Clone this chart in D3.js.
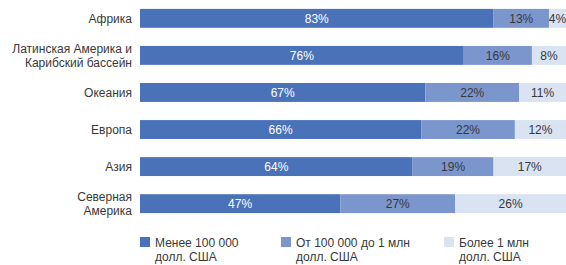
<!DOCTYPE html>
<html>
<head>
<meta charset="utf-8">
<script src="https://cdn.jsdelivr.net/npm/d3@7"></script>
<style>
  body { margin: 0; background: #fff; }
  text { font-family: "Liberation Sans", Arial, Helvetica, sans-serif; }
</style>
</head>
<body>
<div id="chart"></div>
<script>
// regions, top to bottom; each label split into lines
var categories = [
  ["Африка"],
  ["Латинская Америка и", "Карибский бассейн"],
  ["Океания"],
  ["Европа"],
  ["Азия"],
  ["Северная", "Америка"]
];
var small = [83, 76, 67, 66, 64, 47];     // менее 100 000
var medium = [13, 16, 22, 22, 19, 27];    // 100 000 - 1 млн
var large = [4, 8, 11, 12, 17, 26];       // более 1 млн
var seriesNames = [
  ["Менее 100 000", "долл. США"],
  ["От 100 000 до 1 млн", "долл. США"],
  ["Более 1 млн", "долл. США"]
];

var colors = ["#4a72b8", "#7b96cc", "#d9e3f2"];
var textColors = ["#ffffff", "#383838", "#383838"];

var W = 566, H = 265;
var svg = d3.select("#chart").append("svg")
  .attr("width", W).attr("height", H);

var rows = categories.map(function(c, i) {
  return { key: i, vals: [small[i], medium[i], large[i]] };
});

var x = d3.scaleLinear().domain([0, 100]).range([140, 566]);
var y = d3.scaleBand().domain(d3.range(categories.length))
  .range([0, 222]).paddingInner(0.49).paddingOuter(0.24);

var row = svg.selectAll("g.row")
  .data(rows)
  .enter().append("g")
  .attr("class", "row")
  .attr("transform", function(d) { return "translate(0," + y(d.key) + ")"; });

row.each(function(d) {
  var g = d3.select(this);
  var acc = 0;
  d.vals.forEach(function(v, j) {
    var x0 = acc;
    acc += v;
    g.append("rect")
      .attr("x", x(x0))
      .attr("width", x(acc) - x(x0))
      .attr("height", y.bandwidth())
      .attr("fill", colors[j]);
    g.append("text")
      .attr("x", (x(x0) + x(acc)) / 2)
      .attr("y", y.bandwidth() / 2 + 4.3)
      .attr("text-anchor", "middle")
      .attr("font-size", 12)
      .attr("fill", textColors[j])
      .text(v + "%");
  });
});

// category labels
row.append("text")
  .attr("text-anchor", "end")
  .attr("font-size", 12)
  .attr("fill", "#383838")
  .each(function(d) {
    var lines = categories[d.key];
    var t = d3.select(this);
    var start = y.bandwidth() / 2 + 4.3 - (lines.length - 1) * 7;
    lines.forEach(function(l, k) {
      t.append("tspan").attr("x", 132).attr("y", start + k * 14).text(l);
    });
  });

// legend
var legendX = [140, 281, 444];
var leg = svg.selectAll("g.legend")
  .data(seriesNames)
  .enter().append("g")
  .attr("class", "legend")
  .attr("transform", function(d, i) { return "translate(" + legendX[i] + ",237)"; });

leg.append("rect")
  .attr("width", 10).attr("height", 10)
  .attr("fill", function(d, i) { return colors[i]; });

leg.append("text")
  .attr("font-size", 12)
  .attr("fill", "#383838")
  .each(function(d) {
    var t = d3.select(this);
    d.forEach(function(l, k) {
      t.append("tspan").attr("x", 15).attr("y", 9.5 + k * 14).text(l);
    });
  });
</script>
</body>
</html>
